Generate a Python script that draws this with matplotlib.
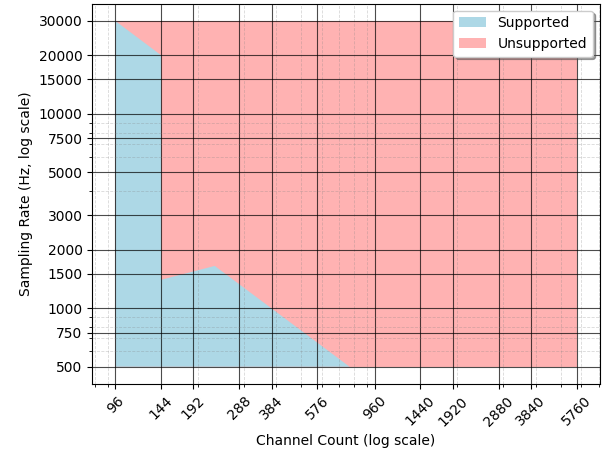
import matplotlib
matplotlib.use("Agg")
import matplotlib.pyplot as plt
from matplotlib.ticker import FixedLocator, FixedFormatter

# supported boundary (channel count, max sampling rate)
sup_ch = [96, 96, 144, 144, 232, 768]
sup_hz = [500, 30000, 20000, 1400, 1650, 500]

# whole tested range
all_ch = [96, 5760, 5760, 96]
all_hz = [500, 500, 30000, 30000]

x_ticks = [96, 144, 192, 288, 384, 576, 960, 1440, 1920, 2880, 3840, 5760]
y_ticks = [500, 750, 1000, 1500, 2000, 3000, 5000, 7500, 10000, 15000, 20000, 30000]

fig, ax = plt.subplots(figsize=(6.07, 4.54), dpi=100)
fig.subplots_adjust(left=0.152, right=0.988, bottom=0.154, top=0.992)

ax.fill(all_ch, all_hz, color="red", alpha=0.3, lw=0, label="Unsupported")
ax.fill(sup_ch, sup_hz, color="lightblue", lw=0, label="Supported")

ax.set_xscale("log")
ax.set_yscale("log")
ax.xaxis.set_major_locator(FixedLocator(x_ticks))
ax.xaxis.set_major_formatter(FixedFormatter([str(v) for v in x_ticks]))
ax.yaxis.set_major_locator(FixedLocator(y_ticks))
ax.yaxis.set_major_formatter(FixedFormatter([str(v) for v in y_ticks]))
ax.xaxis.set_minor_formatter(FixedFormatter([]))
ax.yaxis.set_minor_formatter(FixedFormatter([]))
plt.setp(ax.get_xticklabels(), rotation=45)

ax.grid(True, which="major", color="black", alpha=0.7, lw=0.8)
ax.grid(True, which="minor", color="gray", ls="--", alpha=0.3, lw=0.6)
ax.set_axisbelow(False)

ax.set_xlabel("Channel Count (log scale)")
ax.set_ylabel("Sampling Rate (Hz, log scale)")

h, l = ax.get_legend_handles_labels()
ax.legend(h[::-1], l[::-1], loc="upper right", shadow=True)

fig.savefig("out.png")
